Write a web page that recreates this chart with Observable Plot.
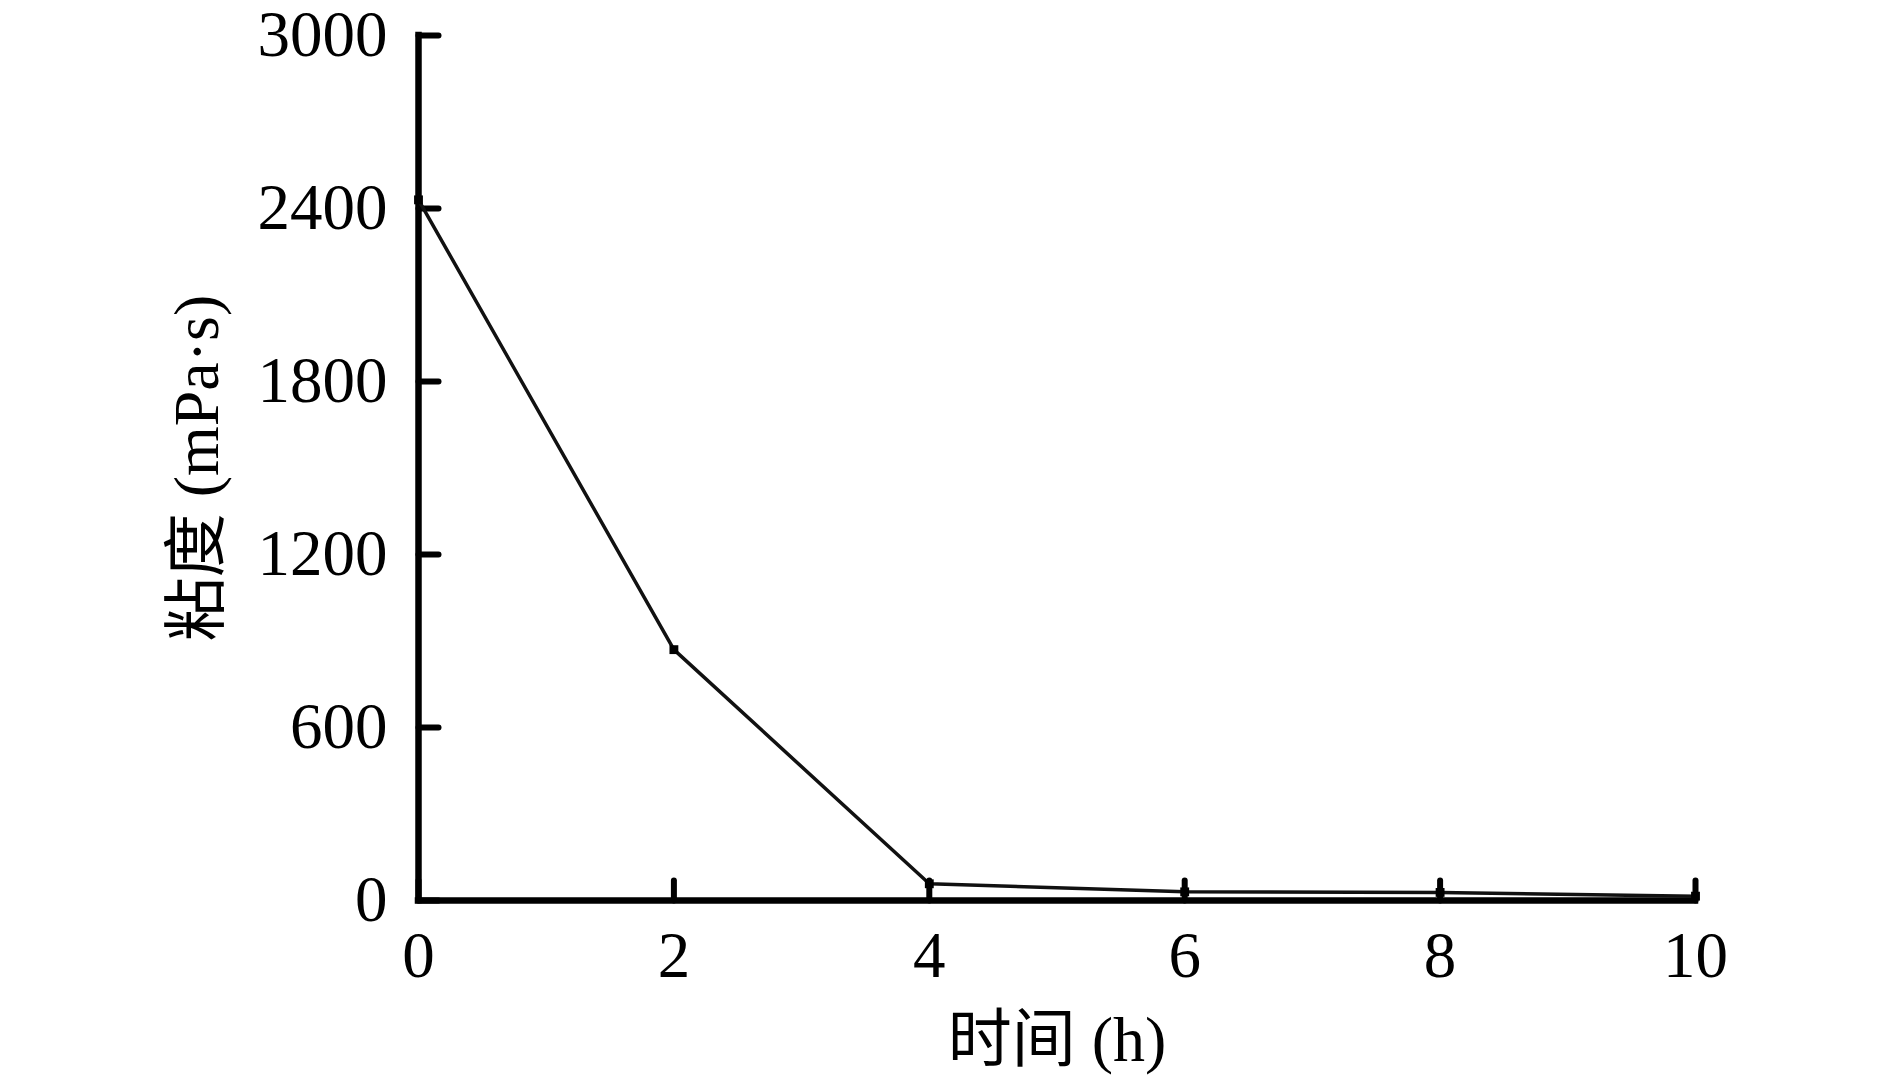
<!DOCTYPE html>
<html>
<head>
<meta charset="utf-8">
<script src="https://cdn.jsdelivr.net/npm/d3@7"></script>
<script src="https://cdn.jsdelivr.net/npm/@observablehq/plot@0.6"></script>
<style>
  html, body { margin: 0; padding: 0; background: #fff; }
  #chart svg { display: block; }
</style>
</head>
<body>
<div id="chart"></div>
<script>
// Data
const hours = [0, 2, 4, 6, 8, 10];
const viscosity = [2430, 870, 58, 30, 28, 15];
const xTicks = [0, 2, 4, 6, 8, 10];
const yTicks = [0, 600, 1200, 1800, 2400, 3000];
const xTitle = "时间 (h)";
const yTitle = "粘度 (mPa·s)";

const rows = hours.map((h, i) => ({hour: h, visc: viscosity[i]}));

const font = "'Liberation Serif', 'Times New Roman', 'Noto Sans CJK SC', serif";
const tickLine = {draw(context, l) { context.moveTo(0, 0); context.lineTo(0, -l); }};

const chart = Plot.plot({
  width: 1890,
  height: 1080,
  marginLeft: 418,
  marginRight: 195,
  marginTop: 35,
  marginBottom: 180,
  style: {fontFamily: font, background: "#fff", color: "#000", overflow: "visible"},
  x: {domain: [0, 10]},
  y: {domain: [0, 3000]},
  marks: [
    Plot.axisX({ticks: xTicks, tickFormat: d3.format("d"), tickSize: 0, tickPadding: 30, fontSize: 65, label: null, fill: "#000"}),
    Plot.axisY({ticks: yTicks, tickFormat: d3.format("d"), tickSize: 0, tickPadding: 31, fontSize: 65, label: null, fill: "#000"}),
    // inward ticks
    Plot.vector(xTicks, {x: d => d, y: 0, length: 20, anchor: "start", rotate: 0, shape: tickLine, stroke: "#000", strokeWidth: 6}),
    Plot.vector(yTicks, {x: 0, y: d => d, length: 20, anchor: "start", rotate: 90, shape: tickLine, stroke: "#000", strokeWidth: 6}),
    // axis lines
    Plot.ruleY([0], {stroke: "#000", strokeWidth: 6.5, strokeLinecap: "square"}),
    Plot.ruleX([0], {stroke: "#000", strokeWidth: 6.5, strokeLinecap: "square"}),
    // data
    Plot.line(rows, {x: "hour", y: "visc", stroke: "#111", strokeWidth: 3.5}),
    Plot.dot(rows, {x: "hour", y: "visc", symbol: "square", r: 5, fill: "#000"}),
    // axis titles
    Plot.text([xTitle], {text: d => d, frameAnchor: "bottom", textAnchor: "middle", dy: 160, fontSize: 64, fill: "#000", fontFamily: font}),
    Plot.text([yTitle], {text: d => d, frameAnchor: "left", textAnchor: "middle", dx: -221, rotate: -90, fontSize: 64, fill: "#000", fontFamily: font})
  ]
});
document.getElementById("chart").appendChild(chart);
</script>
</body>
</html>
